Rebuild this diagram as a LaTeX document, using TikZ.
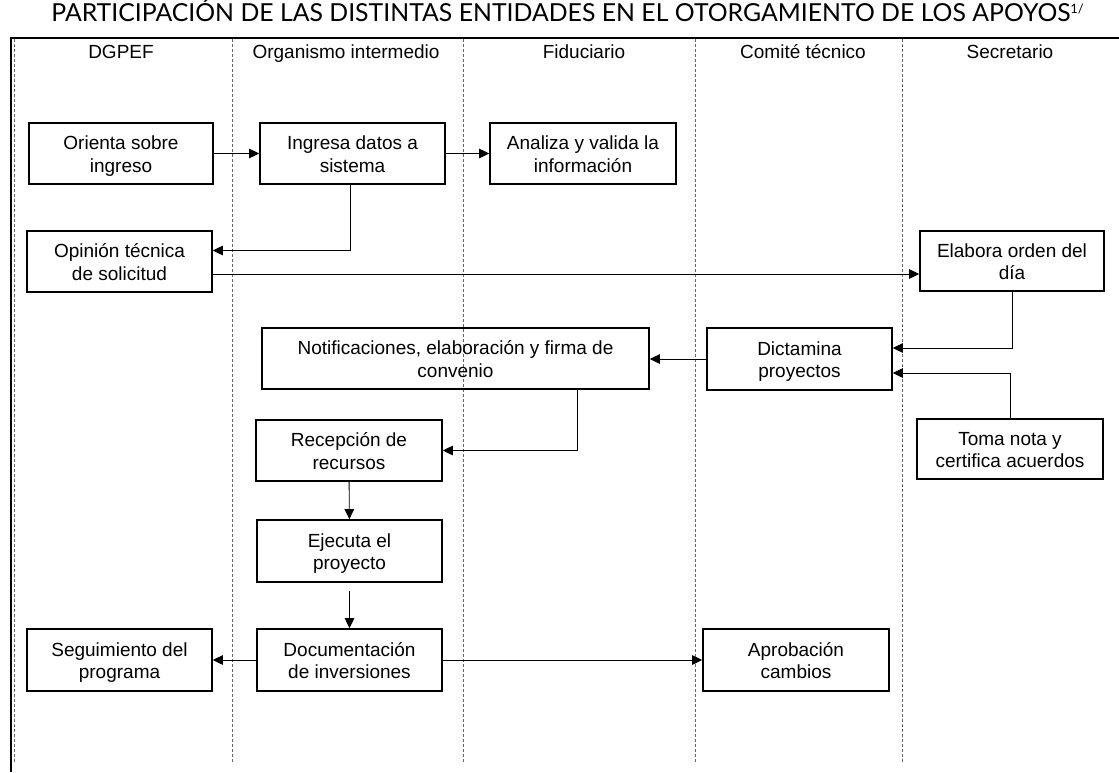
\documentclass[tikz,border=0pt]{standalone}
\usepackage{fontspec}
\setmainfont{Liberation Sans}
\newfontfamily\titulofont{Lato}
\usetikzlibrary{arrows.meta}
\newcommand{\pasoalto}{\rule{0pt}{42pt}}
\newcommand{\pasobajo}{\rule[-4.5pt]{0pt}{4.5pt}}
\begin{document}
\begin{tikzpicture}[x=1pt,y=-1pt]
			\tikzstyle{every node}+=[inner sep=0pt, font=\fontsize{19}{22.3}\selectfont]
			\tikzstyle{paso}=[draw=black, line width=1.6pt, align=center, minimum height=61pt, minimum width=185pt, execute at begin node=\pasoalto, execute at end node=\pasobajo]
			\tikzstyle{carril}=[draw=black!60, line width=0.9pt, dash pattern=on 3pt off 2pt]
			\tikzstyle{cabecera}=[text height=17.2pt, text depth=4pt]
			\tikzstyle{flecha}=[draw=black, line width=0.9pt, -{Triangle[length=10pt,width=9.5pt]}]
			\useasboundingbox (0,0) rectangle (1119,772);
			\node [anchor=base] (titulo) at (567.5,21.5) {\titulofont\fontsize{24.8}{26}\selectfont PARTICIPACIÓN DE LAS DISTINTAS ENTIDADES EN EL OTORGAMIENTO DE LOS APOYOS\raisebox{8pt}{\fontsize{13}{13}\selectfont 1/}};
			\draw [black, line width=2pt] (10,37.5) -- (1119,37.5);
			\draw [black, line width=1.6pt] (11,37) -- (11,772);
			\foreach \x in {14,232,463,695,902}
				\draw [carril] (\x,39) -- (\x,762);
			\node [cabecera] (dgpef) at (121,52) {DGPEF};
			\node [cabecera] (organismo) at (346,52) {Organismo intermedio};
			\node [cabecera] (fiduciario) at (584,52) {Fiduciario};
			\node [cabecera] (comite) at (803,52) {Comité técnico};
			\node [cabecera] (secretario) at (1010,52) {Secretario};
			\node [paso, minimum width=184pt] (orienta) at (121,153.5) {Orienta sobre\\ingreso};
			\node [paso] (ingresa) at (352.5,153.5) {Ingresa datos a\\sistema};
			\node [paso, minimum width=186pt] (analiza) at (583,153.5) {Analiza y valida la\\información};
			\node [paso] (opinion) at (119.5,261.5) {Opinión técnica\\de solicitud};
			\node [paso, minimum width=184pt, minimum height=60pt] (elabora) at (1012,261) {Elabora orden del\\día};
			\node [paso, minimum width=387pt] (notif) at (455.5,358.5) {Notificaciones, elaboración y firma de\\convenio};
			\node [paso, minimum height=62pt] (dictamina) at (799.5,359) {Dictamina\\proyectos};
			\node [paso, minimum width=186pt, minimum height=60pt] (toma) at (1010,449) {Toma nota y\\certifica acuerdos};
			\node [paso, minimum width=186pt] (recepcion) at (349,450.5) {Recepción de\\recursos};
			\node [paso, minimum height=62pt] (ejecuta) at (349.5,551) {Ejecuta el\\proyecto};
			\node [paso, minimum height=62pt] (seguimiento) at (119.5,660) {Seguimiento del\\programa};
			\node [paso, minimum height=62pt] (documentacion) at (349.5,660) {Documentación\\de inversiones};
			\node [paso, minimum width=186pt, minimum height=62pt] (aprobacion) at (796,660) {Aprobación\\cambios};
			\draw [flecha] (orienta) -- (ingresa);
			\draw [flecha] (ingresa) -- (analiza);
			\draw [flecha] ([xshift=-2.5pt]ingresa.south) |- ([yshift=11pt]opinion.east);
			\draw [flecha] ([yshift=-12.5pt]opinion.east) -- ([yshift=-12.5pt]opinion.east -| elabora.west);
			\draw [flecha] (elabora.south) |- ([yshift=11pt]dictamina.east);
			\draw [flecha] (toma.north) |- ([yshift=-14pt]dictamina.east);
			\draw [flecha] (dictamina.west) -- (dictamina.west -| notif.east);
			\draw [flecha] ([xshift=121.5pt]notif.south) |- (recepcion.east);
			\draw [flecha] (recepcion) -- (ejecuta);
			\draw [flecha] ([yshift=-8pt]ejecuta.south) -- (documentacion.north);
			\draw [flecha] (documentacion) -- (seguimiento);
			\draw [flecha] (documentacion) -- (aprobacion);
\end{tikzpicture}
\end{document}
